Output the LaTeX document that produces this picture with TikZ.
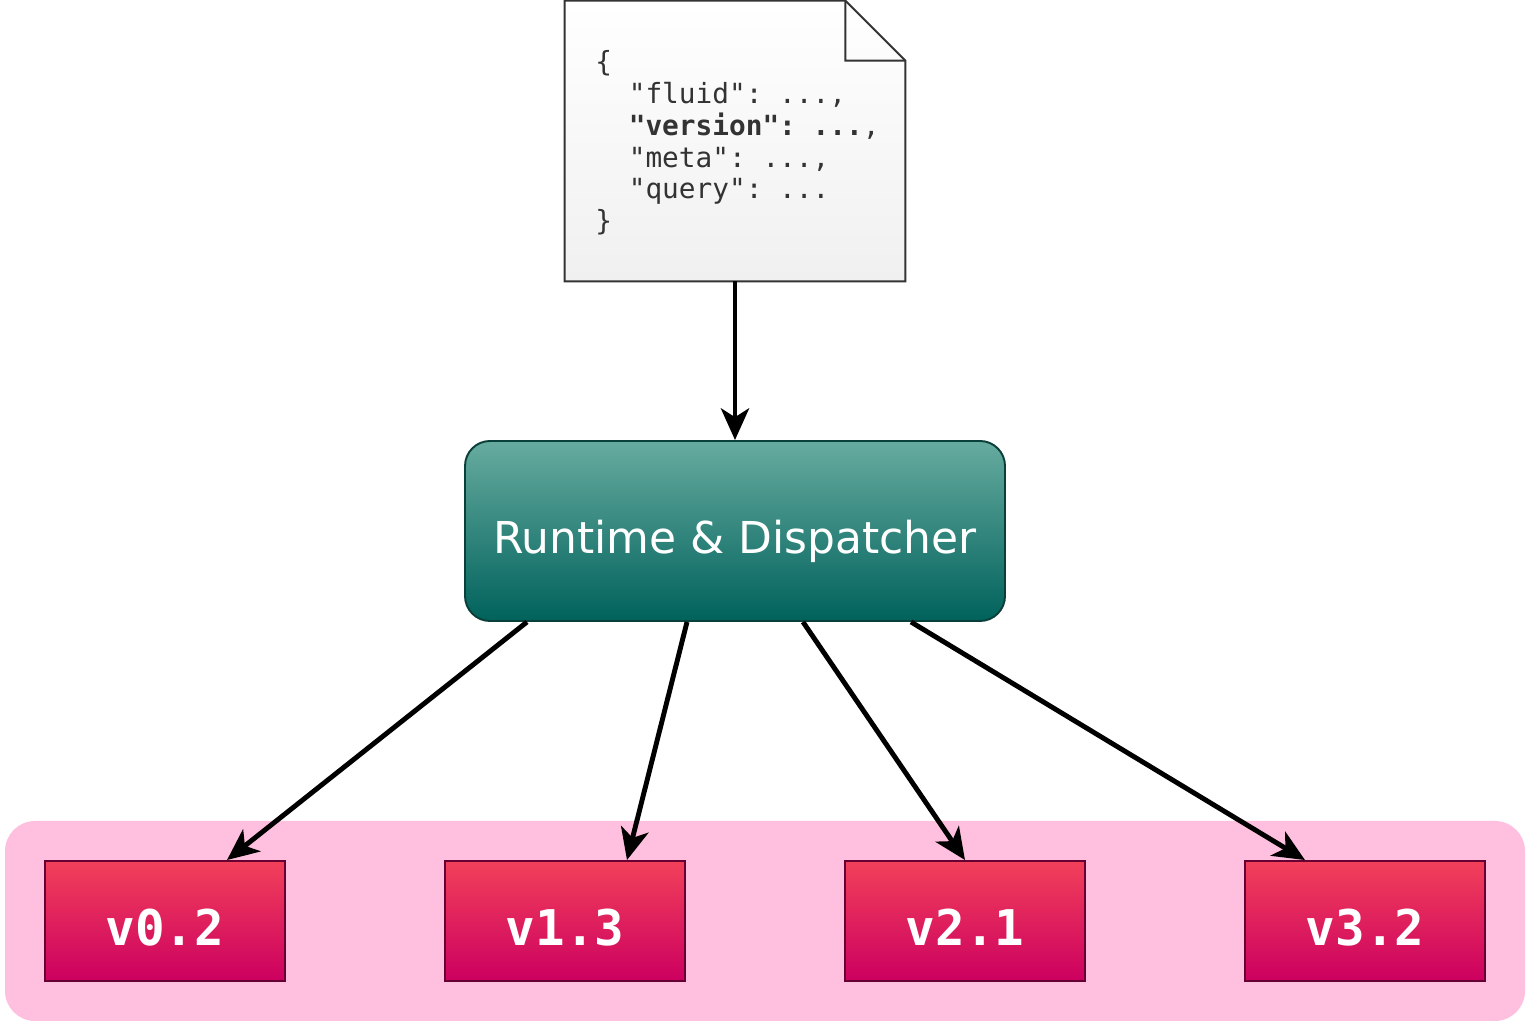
\documentclass[tikz,border=0pt]{standalone}
\usepackage{fontspec}
\setmainfont{DejaVu Sans}
\setmonofont{DejaVu Sans Mono}
\usetikzlibrary{arrows.meta}
\definecolor{docbot}{HTML}{F0F0F0}
\definecolor{docline}{HTML}{333333}
\definecolor{tealtop}{HTML}{67AB9F}
\definecolor{tealbot}{HTML}{00625C}
\definecolor{tealline}{HTML}{0B3F3A}
\definecolor{vertop}{HTML}{F2405A}
\definecolor{verbot}{HTML}{CC0060}
\definecolor{verline}{HTML}{660033}
\definecolor{poolpink}{HTML}{FFC0E0}

\begin{document}
\begin{tikzpicture}[
    flow/.style={line width=2.8pt,-{Stealth[length=18pt,width=16pt,inset=5pt]}},
    verbox/.style={draw=verline,line width=1.1pt,top color=vertop,bottom color=verbot,
        minimum width=4.8cm,minimum height=2.4cm,text=white,text height=1cm,
        font=\ttfamily\bfseries\fontsize{28}{32}\selectfont}]
    \useasboundingbox (0,0) rectangle (30.56,20.52);
    \fill[poolpink,rounded corners=0.6cm] (0.1,0.1) rectangle (30.5,4.1);
    % request
    \node[minimum width=6.8cm,minimum height=5.6cm,inner sep=0pt] (doc) at (14.7,17.7) {};
    \shadedraw[draw=docline,line width=1.1pt,top color=white,bottom color=docbot]
        (doc.south west) -- (doc.north west) -- ([xshift=-1.2cm]doc.north east)
        -- ([yshift=-1.2cm]doc.north east) -- (doc.south east) -- cycle;
    \draw[docline,line width=1.1pt] ([xshift=-1.2cm]doc.north east) -- ++(0,-1.2)
        -- ([yshift=-1.2cm]doc.north east);
    \node[anchor=west,align=left,inner sep=0pt,text=docline,
        font=\ttfamily\fontsize{15.8}{18.1}\selectfont] (json) at (11.9,17.66)
        {\{\\
         \hphantom{xx}"fluid": ...,\\
         \hphantom{xx}\textbf{"version": ...},\\
         \hphantom{xx}"meta": ...,\\
         \hphantom{xx}"query": ...\\
         \}};
    % dispatcher
    \node[draw=tealline,line width=1.1pt,rounded corners=0.5cm,top color=tealtop,bottom color=tealbot,
        minimum width=10.8cm,minimum height=3.6cm,text=white,text height=1.07cm,
        font=\fontsize{25}{30}\selectfont] (disp) at (14.7,9.9) {Runtime \& Dispatcher};
    % versions
    \node[verbox] (v02) at (3.3,2.1) {v0.2};
    \node[verbox] (v13) at (11.3,2.1) {v1.3};
    \node[verbox] (v21) at (19.3,2.1) {v2.1};
    \node[verbox] (v32) at (27.3,2.1) {v3.2};
    \draw[flow] (doc) -- (disp);
    \draw[flow] ([xshift=-4.16cm]disp.south) -- ([xshift=1.24cm]v02.north);
    \draw[flow] ([xshift=-0.96cm]disp.south) -- ([xshift=1.24cm]v13.north);
    \draw[flow] ([xshift=1.36cm]disp.south) -- (v21.north);
    \draw[flow] ([xshift=3.52cm]disp.south) -- ([xshift=-1.2cm]v32.north);
\end{tikzpicture}
\end{document}
